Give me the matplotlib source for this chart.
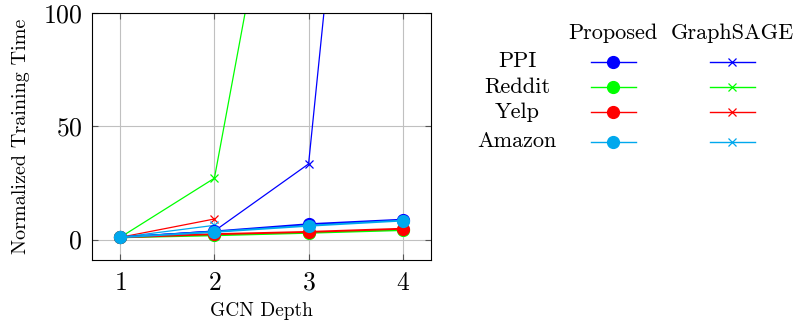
import matplotlib
matplotlib.use("Agg")
import matplotlib.pyplot as plt
from matplotlib.lines import Line2D

plt.rcParams['font.family'] = ['cmr10', 'DejaVu Serif']
plt.rcParams['axes.formatter.use_mathtext'] = True
plt.rcParams['mathtext.fontset'] = 'cm'

depth = [1, 2, 3, 4]
datasets = ["PPI", "Reddit", "Yelp", "Amazon"]
colors = ['#0000ff', '#00ff00', '#ff0000', '#00a8ed']

# proposed method, normalized training time
proposed = {
    "PPI":    [1, 3.6, 6.8, 8.8],
    "Reddit": [1, 1.9, 3.0, 4.2],
    "Yelp":   [1, 2.4, 3.4, 4.8],
    "Amazon": [1, 3.4, 6.1, 8.4],
}
# graphsage baseline (runs that finished)
graphsage = {
    "PPI":    [1, 3.8, 33.4, 443],
    "Reddit": [1, 27.1, 251],
    "Yelp":   [1, 9.1],
    "Amazon": [1, 6.3],
}

fig = plt.figure(figsize=(7.94, 3.2), dpi=100)
ax = fig.add_axes([92/794, 60/320, 339/794, 247/320])

for name, c in zip(datasets, colors):
    g = graphsage[name]
    ax.plot(depth[:len(g)], g, color=c, lw=0.9, marker='x', ms=6, mew=0.9)
for name, c in zip(datasets, colors):
    ax.plot(depth, proposed[name], color=c, lw=1.4, marker='o', ms=8.5)

ax.set_xlim(0.7, 4.3)
ax.set_ylim(-9, 100)
ax.set_xticks(depth)
ax.set_yticks([0, 50, 100])
ax.grid(True, color='#c0c0c0', lw=0.8)
ax.set_axisbelow(True)
ax.tick_params(labelsize=18.5, direction='in', length=4, color='#555555',
               top=True, right=True)
ax.tick_params(axis='x', pad=8)
ax.tick_params(axis='y', pad=7)
for s in ax.spines.values():
    s.set_linewidth(0.8)
ax.set_xlabel("GCN Depth", fontsize=14, labelpad=5)
ax.set_ylabel("Normalized Training Time", fontsize=14.5, labelpad=9)

# table-style legend
W, H = 794, 320
def fx(px):
    return px / W
def fy(py):
    return 1 - py / H

fig.text(fx(613), fy(33), "Proposed", ha='center', va='center', fontsize=16)
fig.text(fx(732), fy(33), "GraphSAGE", ha='center', va='center', fontsize=16)
rows_y = [61.5, 87, 112, 141.5]
for name, c, ry in zip(datasets, colors, rows_y):
    fig.text(fx(517), fy(ry), name, ha='center', va='center', fontsize=16)
    fig.add_artist(Line2D([fx(591), fx(636)], [fy(ry), fy(ry)], color=c, lw=1))
    fig.add_artist(Line2D([fx(613)], [fy(ry)], color=c, marker='o', ms=8.5))
    fig.add_artist(Line2D([fx(710), fx(755)], [fy(ry), fy(ry)], color=c, lw=1))
    fig.add_artist(Line2D([fx(732)], [fy(ry)], color=c, marker='x', ms=6, mew=0.9))

fig.savefig("out.png", dpi=100)
